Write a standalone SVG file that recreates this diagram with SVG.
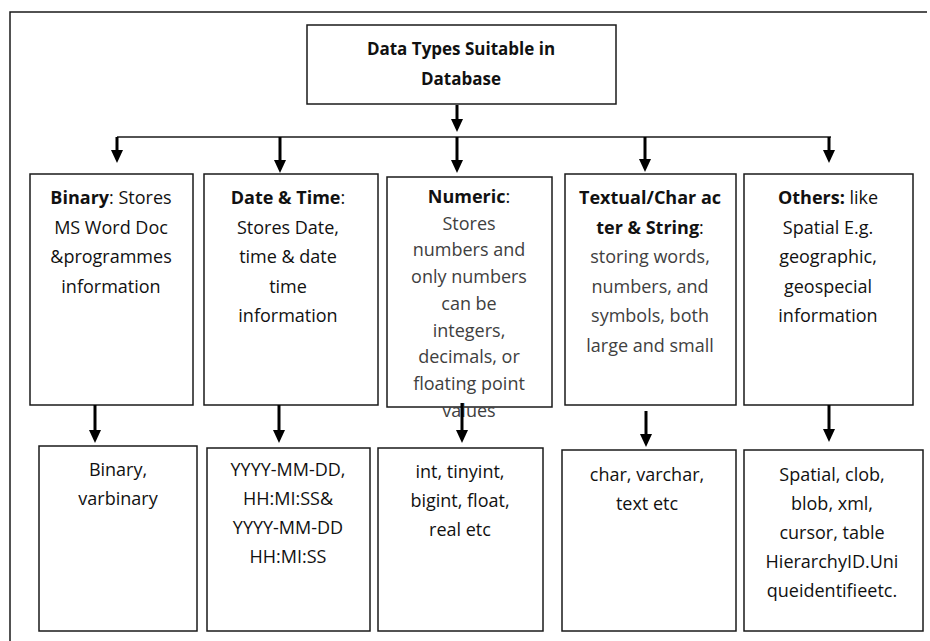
<svg xmlns="http://www.w3.org/2000/svg" width="930" height="641" viewBox="0 0 930 641">
<style>
  .box { fill: #ffffff; stroke: #1a1a1a; stroke-width: 1.5; }
  .t { font-family: "Open Sans", "Noto Sans", "Liberation Sans", sans-serif; font-size: 18px; fill: #111111; text-anchor: middle; }
  .g { fill: #404040; }
  .b { font-weight: bold; fill: #111111; }
  .title { font-family: "Open Sans", "Noto Sans", "Liberation Sans", sans-serif; font-size: 17px; font-weight: bold; fill: #111111; text-anchor: middle; }
  .arr { stroke: #000000; stroke-width: 3; fill: none; marker-end: url(#ah); }
  .hl { stroke: #1a1a1a; stroke-width: 1.5; fill: none; }
</style>
<defs>
  <marker id="ah" markerUnits="userSpaceOnUse" markerWidth="13" markerHeight="12" viewBox="0 0 13 12" refX="3" refY="6" orient="auto">
    <path d="M0,0 L13,6 L0,12 z" fill="#000000"/>
  </marker>
</defs>
<rect width="930" height="641" fill="#ffffff"/>
<path d="M10,641 L10,12 L927,12" class="hl"/>

<g id="root">
  <rect class="box" x="307" y="25" width="309" height="79"/>
  <text class="title" x="461" y="55">Data Types Suitable in</text>
  <text class="title" x="461" y="85">Database</text>
</g>

<g id="binary">
  <rect class="box" x="30" y="174" width="163" height="231"/>
  <text class="t" x="111" y="204"><tspan class="b">Binary</tspan>: Stores</text>
  <text class="t" x="111" y="234">MS Word Doc</text>
  <text class="t" x="111" y="263">&amp;programmes</text>
  <text class="t" x="111" y="293">information</text>
</g>

<g id="datetime">
  <rect class="box" x="204" y="174" width="174" height="231"/>
  <text class="t" x="288" y="204"><tspan class="b">Date &amp; Time</tspan>:</text>
  <text class="t" x="288" y="234">Stores Date,</text>
  <text class="t" x="288" y="263">time &amp; date</text>
  <text class="t" x="288" y="293">time</text>
  <text class="t" x="288" y="322">information</text>
</g>

<g id="numeric">
  <rect class="box" x="387" y="177" width="165" height="230"/>
  <text class="t" x="469" y="203"><tspan class="b">Numeric</tspan>:</text>
  <text class="t g" x="469" y="229.7">Stores</text>
  <text class="t g" x="469" y="256.4">numbers and</text>
  <text class="t g" x="469" y="283.1">only numbers</text>
  <text class="t g" x="469" y="309.8">can be</text>
  <text class="t g" x="469" y="336.5">integers,</text>
  <text class="t g" x="469" y="363.2">decimals, or</text>
  <text class="t g" x="469" y="389.9">floating point</text>
  <text class="t g" x="469" y="416.6">values</text>
</g>

<g id="textual">
  <rect class="box" x="565" y="174" width="171" height="231"/>
  <text class="t b" x="650" y="204">Textual/Char ac</text>
  <text class="t" x="650" y="234"><tspan class="b">ter &amp; String</tspan>:</text>
  <text class="t g" x="650" y="263">storing words,</text>
  <text class="t g" x="650" y="293">numbers, and</text>
  <text class="t g" x="650" y="322">symbols, both</text>
  <text class="t g" x="650" y="352">large and small</text>
</g>

<g id="others">
  <rect class="box" x="744" y="174" width="169" height="231"/>
  <text class="t" x="828" y="204"><tspan class="b">Others:</tspan> like</text>
  <text class="t" x="828" y="234">Spatial E.g.</text>
  <text class="t" x="828" y="263">geographic,</text>
  <text class="t" x="828" y="293">geospecial</text>
  <text class="t" x="828" y="322">information</text>
</g>

<g id="binary-ex">
  <rect class="box" x="39" y="446" width="158" height="185"/>
  <text class="t" x="118" y="476">Binary,</text>
  <text class="t" x="118" y="505">varbinary</text>
</g>

<g id="datetime-ex">
  <rect class="box" x="207" y="448" width="163" height="183"/>
  <text class="t" x="288" y="476">YYYY-MM-DD,</text>
  <text class="t" x="288" y="505">HH:MI:SS&amp;</text>
  <text class="t" x="288" y="534">YYYY-MM-DD</text>
  <text class="t" x="288" y="563">HH:MI:SS</text>
</g>

<g id="numeric-ex">
  <rect class="box" x="378" y="448" width="165" height="183"/>
  <text class="t" x="460" y="478">int, tinyint,</text>
  <text class="t" x="460" y="507">bigint, float,</text>
  <text class="t" x="460" y="536">real etc</text>
</g>

<g id="textual-ex">
  <rect class="box" x="562" y="450" width="174" height="181"/>
  <text class="t" x="647" y="481">char, varchar,</text>
  <text class="t" x="647" y="510">text etc</text>
</g>

<g id="others-ex">
  <rect class="box" x="744" y="450" width="179" height="181"/>
  <text class="t" x="832" y="481">Spatial, clob,</text>
  <text class="t" x="832" y="510">blob, xml,</text>
  <text class="t" x="832" y="539">cursor, table</text>
  <text class="t" x="832" y="568">HierarchyID.Uni</text>
  <text class="t" x="832" y="597">queidentifieetc.</text>
</g>

<g id="connectors">
  <line class="arr" x1="457" y1="105" x2="457" y2="122"/>
  <line class="hl" x1="117" y1="137" x2="831" y2="137"/>
  <line class="arr" x1="117" y1="137" x2="117" y2="153"/>
  <line class="arr" x1="280" y1="137" x2="280" y2="163"/>
  <line class="arr" x1="457" y1="137" x2="457" y2="163"/>
  <line class="arr" x1="645" y1="137" x2="645" y2="162"/>
  <line class="arr" x1="829" y1="137" x2="829" y2="153"/>
  <line class="arr" x1="95" y1="405" x2="95" y2="433"/>
  <line class="arr" x1="279" y1="405" x2="279" y2="433"/>
  <line class="arr" x1="462" y1="403" x2="462" y2="433"/>
  <line class="arr" x1="646" y1="411" x2="646" y2="437"/>
  <line class="arr" x1="829" y1="405" x2="829" y2="432"/>
</g>
</svg>
